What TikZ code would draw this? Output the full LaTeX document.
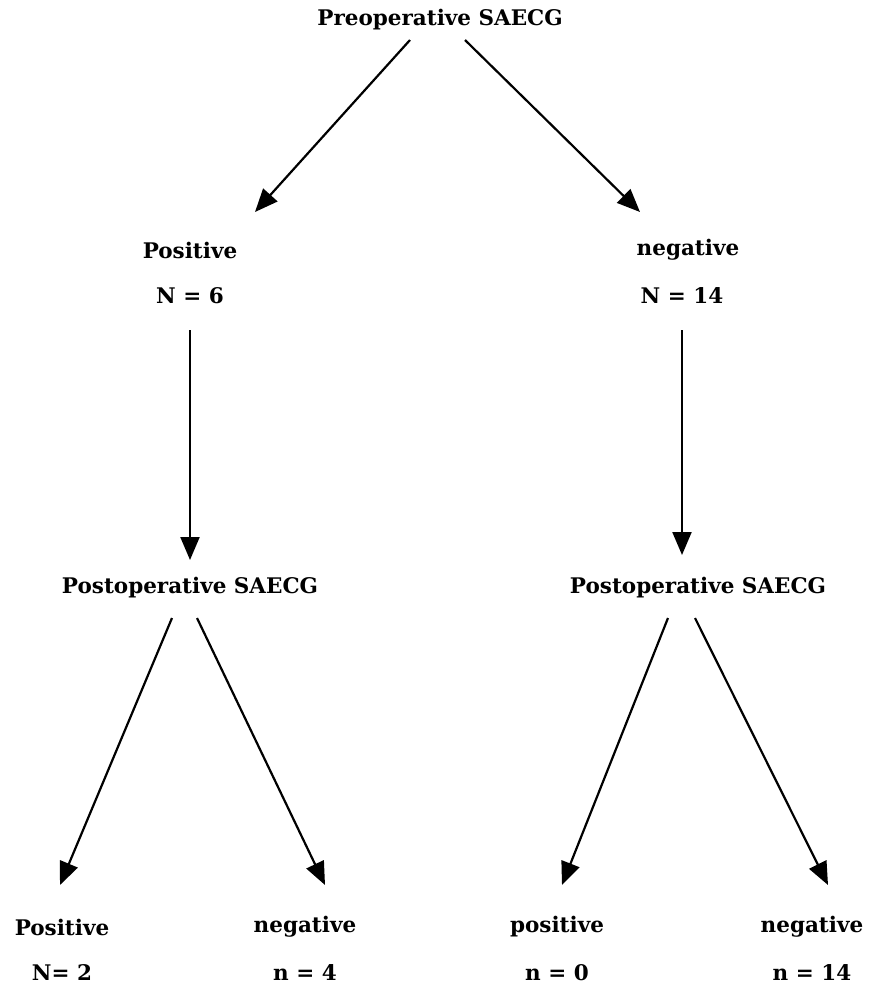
\documentclass[tikz,border=0pt]{standalone}
\usepackage{fontspec}
\setmainfont{DejaVu Serif}
\usetikzlibrary{calc, arrows.meta}

\begin{document}
\begin{tikzpicture}[x=1pt, y=-1pt, font=\bfseries\fontsize{21.5}{25}\selectfont]
			\def\top{20};
			\def\mid{250};
			\def\post{588};
			\def\bot{927};

			\useasboundingbox (0,0) rectangle (869,997);

			\node (pre) at (440,\top) {Preoperative SAECG};
			\node (posA) at (190,\mid) {Positive};
			\node (nA) at (190,\mid+46) {N = 6};
			\node (negA) at (688,\mid) {negative};
			\node (nB) at (682,\mid+46) {N = 14};
			\node (postL) at (190,\post) {Postoperative SAECG};
			\node (postR) at (698,\post) {Postoperative SAECG};
			\node (botA) at (62,\bot) {Positive};
			\node (nbA) at (62,\bot+46) {N= 2};
			\node (botB) at (305,\bot) {negative};
			\node (nbB) at (305,\bot+46) {n = 4};
			\node (botC) at (557,\bot) {positive};
			\node (nbC) at (557,\bot+46) {n = 0};
			\node (botD) at (812,\bot) {negative};
			\node (nbD) at (812,\bot+46) {n = 14};

			\begin{scope}[-{Triangle[length=23pt, width=19pt]}, line width=2.2pt]
				\draw ($(pre)+(-30,20)$) -- ($(posA)+(65,-38)$);
				\draw ($(pre)+(25,20)$) -- ($(negA)+(-48,-38)$);
				\draw ($(nA)+(0,34)$) -- ($(postL)+(0,-28)$);
				\draw ($(nB)+(0,34)$) -- ($(postR)+(-16,-33)$);
				\draw ($(postL)+(-18,30)$) -- ($(botA)+(-2,-42)$);
				\draw ($(postL)+(7,30)$) -- ($(botB)+(20,-42)$);
				\draw ($(postR)+(-30,30)$) -- ($(botC)+(5,-42)$);
				\draw ($(postR)+(-3,30)$) -- ($(botD)+(16,-42)$);
			\end{scope}
		\end{tikzpicture}
\end{document}
